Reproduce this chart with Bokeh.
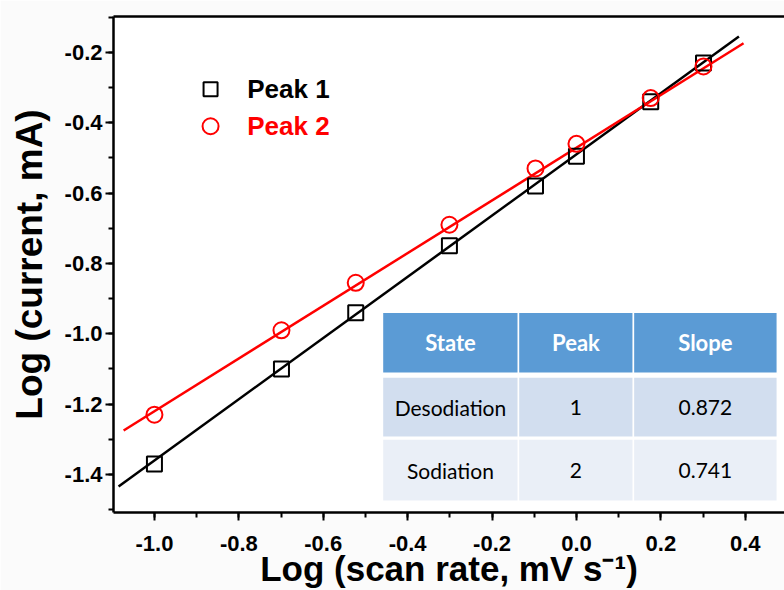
from bokeh.plotting import figure
from bokeh.models import (Range1d, LinearAxis, SingleIntervalTicker, NumeralTickFormatter,
                          FixedTicker)
from bokeh.core.properties import value
from bokeh.embed import file_html
from bokeh.resources import INLINE

# ---------------- data ----------------
log_scan_rate = [-1.0, -0.699, -0.523, -0.301, -0.097, 0.0, 0.176, 0.301]
peak1 = [-1.37, -1.10, -0.94, -0.75, -0.58, -0.495, -0.34, -0.23]
peak2 = [-1.23, -0.99, -0.855, -0.69, -0.53, -0.46, -0.33, -0.24]

fit1_x = [-1.085, 0.385]
fit1_y = [-1.434, -0.155]
fit2_x = [-1.073, 0.396]
fit2_y = [-1.275, -0.174]

series_names = ["Peak 1", "Peak 2"]

table_header = ["State", "Peak", "Slope"]
table_state = ["Desodiation", "Sodiation"]
table_peak = ["1", "2"]
table_slope = ["0.872", "0.741"]

# ---------------- layout / style ----------------
W, H = 784, 590
FONT_AX = "'Liberation Sans', Arial, sans-serif"
FONT_TAB = "Lato, 'Open Sans', sans-serif"

p = figure(width=W, height=H, output_backend="svg", toolbar_location=None,
           x_range=Range1d(-1.097, 0.493), y_range=Range1d(-1.508, -0.098),
           min_border_left=113, min_border_right=0, min_border_top=16, min_border_bottom=78,
           x_axis_label="Log (scan rate, mV s\u207b\u00b9)", y_axis_label="Log (current, mA)")
p.background_fill_color = "white"
p.border_fill_color = "#fbfbfb"
p.outline_line_color = None
p.grid.visible = False

for ax in (p.xaxis[0], p.yaxis[0]):
    ax.ticker = SingleIntervalTicker(interval=0.2, num_minor_ticks=2)
    ax.formatter = NumeralTickFormatter(format="0.0")
    ax.axis_line_width = 2.5
    ax.axis_line_color = "black"
    ax.major_tick_line_width = 2
    ax.minor_tick_line_width = 2
    ax.major_tick_out = 8
    ax.major_tick_in = 0
    ax.minor_tick_out = 5
    ax.minor_tick_in = 0
    ax.major_label_text_font = FONT_AX
    ax.major_label_text_font_style = "bold"
    ax.major_label_text_font_size = "22px"
    ax.major_label_text_color = "black"
    ax.axis_label_text_font = FONT_AX
    ax.axis_label_text_font_style = "bold"
    ax.axis_label_text_color = "black"

p.xaxis.axis_label_text_font_size = "35px"
p.yaxis.axis_label_text_font_size = "37px"
p.xaxis.major_label_standoff = 15
p.xaxis.axis_label_standoff = -5
p.yaxis.major_label_standoff = 3
p.yaxis.axis_label_standoff = 12

top = LinearAxis(ticker=FixedTicker(ticks=[]), major_tick_line_color=None,
                 minor_tick_line_color=None, major_label_standoff=0,
                 axis_line_width=2.5, axis_line_color="black")
p.add_layout(top, "above")

# fits
p.line(fit1_x, fit1_y, line_color="black", line_width=2.5)
p.line(fit2_x, fit2_y, line_color="red", line_width=2.5)

# points
p.scatter(log_scan_rate, peak1, marker="square", size=15, fill_color=None,
          line_color="black", line_width=2)
p.scatter(log_scan_rate, peak2, marker="circle", size=16, fill_color=None,
          line_color="red", line_width=2)

# manual legend
lx, ltx = -0.867, -0.78
ly = [-0.305, -0.41]
p.scatter([lx], [ly[0]], marker="square", size=14, fill_color=None, line_color="black", line_width=2)
p.scatter([lx], [ly[1]], marker="circle", size=16, fill_color=None, line_color="red", line_width=2)
p.text([ltx], [ly[0]], text=[series_names[0]], text_font=value("Liberation Sans"),
       text_font_style="bold", text_font_size="26px", text_color="black", text_baseline="middle")
p.text([ltx], [ly[1]], text=[series_names[1]], text_font=value("Liberation Sans"),
       text_font_style="bold", text_font_size="26px", text_color="red", text_baseline="middle")

# table (positions in data units)
col_edges = [-0.4597, -0.1374, 0.135, 0.476]
row_edges = [(-0.9386, -1.112), (-1.123, -1.294), (-1.299, -1.476)]
row_colors = ["#5b9bd5", "#d2deef", "#eaeff7"]
ql, qr, qt, qb, qc = [], [], [], [], []
for ri, (t, b) in enumerate(row_edges):
    for ci in range(3):
        ql.append(col_edges[ci]); qr.append(col_edges[ci + 1])
        qt.append(t); qb.append(b); qc.append(row_colors[ri])
p.quad(left=ql, right=qr, top=qt, bottom=qb, fill_color=qc, line_color="white", line_width=1.5)

cx = [(col_edges[i] + col_edges[i + 1]) / 2 for i in range(3)]
cy = [(t + b) / 2 for t, b in row_edges]
p.text(cx, [cy[0]] * 3, text=table_header, text_font=value(FONT_TAB), text_font_style="bold",
       text_font_size="22px", text_color="white", text_align="center", text_baseline="middle")
body_text = [table_state[0], table_peak[0], table_slope[0], table_state[1], table_peak[1], table_slope[1]]
body_x = cx + cx
body_y = [cy[1]] * 3 + [cy[2]] * 3
p.text(body_x, body_y, text=body_text, text_font=value(FONT_TAB),
       text_font_size="21px", text_color="black", text_align="center", text_baseline="middle")

open("out.html", "w").write(file_html(p, INLINE))
